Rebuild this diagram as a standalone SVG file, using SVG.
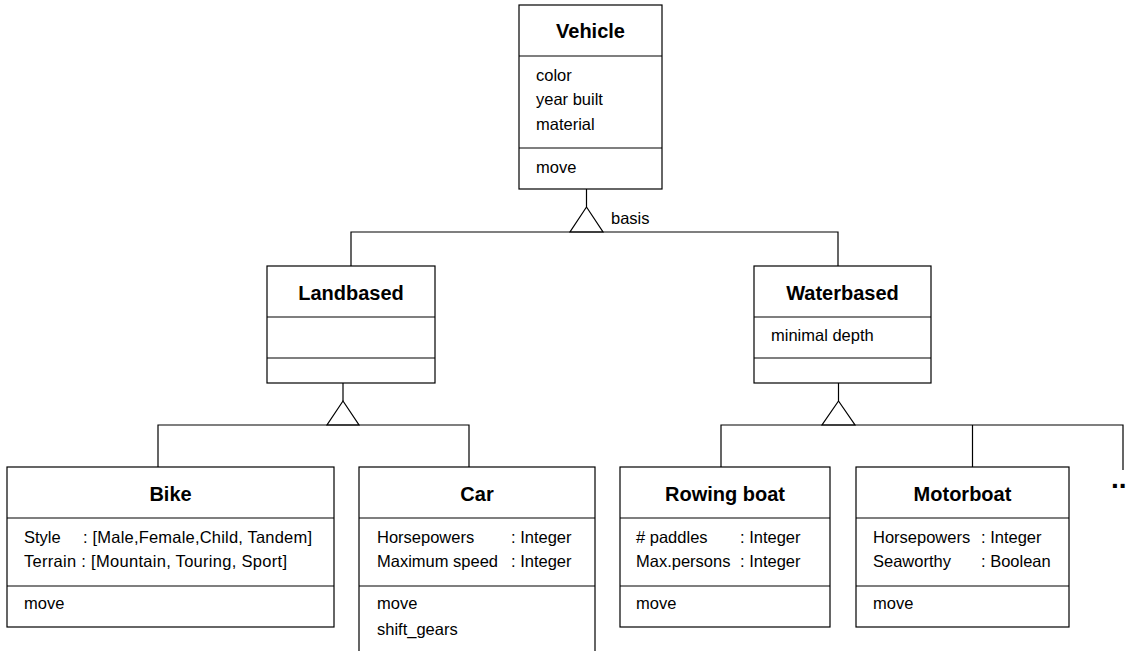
<svg xmlns="http://www.w3.org/2000/svg" width="1129" height="651" viewBox="0 0 1129 651">
<style>
.box{fill:#fff;stroke:#000;stroke-width:1.2}
.ln{fill:none;stroke:#000;stroke-width:1.2}
.t{font-family:"Liberation Sans",Arial,sans-serif;font-size:20px;font-weight:bold;text-anchor:middle;fill:#000}
.a{font-family:"Liberation Sans",Arial,sans-serif;font-size:16.5px;fill:#000}
</style>
<rect width="1129" height="651" fill="#fff"/>
<g id="connectors">
<path class="ln" d="M586.5 189V207M351 266V232H838V266"/>
<polygon class="ln" points="586.5,207 570,232 603,232" fill="#fff"/>
<path class="ln" d="M343 383V401M158 467V425H469V467"/>
<polygon class="ln" points="343,401 327,425 359,425" fill="#fff"/>
<path class="ln" d="M838.5 383V401M721 467V425H1123V470M972.5 425V467"/>
<polygon class="ln" points="838.5,401 822,425 855,425" fill="#fff"/>
<text x="611" y="224" class="a">basis</text>
<text x="1111" y="488" class="a" style="font-size:28px;font-weight:bold">..</text>
</g>
<g id="vehicle">
<rect class="box" x="519" y="5" width="143" height="184"/>
<path class="ln" d="M519 56H662M519 148H662"/>
<text x="590.5" y="38" class="t">Vehicle</text>
<text x="536" y="81" class="a">color</text>
<text x="536" y="105" class="a">year built</text>
<text x="536" y="130" class="a">material</text>
<text x="536" y="173" class="a">move</text>
</g>
<g id="landbased">
<rect class="box" x="267" y="266" width="168" height="117"/>
<path class="ln" d="M267 317H435M267 358H435"/>
<text x="351" y="300" class="t">Landbased</text>
</g>
<g id="waterbased">
<rect class="box" x="754" y="266" width="177" height="117"/>
<path class="ln" d="M754 317H931M754 358H931"/>
<text x="842.5" y="300" class="t">Waterbased</text>
<text x="771" y="341" class="a">minimal depth</text>
</g>
<g id="bike">
<rect class="box" x="7" y="467" width="327" height="160"/>
<path class="ln" d="M7 518H334M7 586H334"/>
<text x="170.5" y="501" class="t">Bike</text>
<text x="24" y="543" class="a">Style</text>
<text x="83" y="543" class="a" textLength="229" lengthAdjust="spacing">: [Male,Female,Child, Tandem]</text>
<text x="24" y="567" class="a" textLength="263" lengthAdjust="spacing">Terrain : [Mountain, Touring, Sport]</text>
<text x="24" y="609" class="a">move</text>
</g>
<g id="car">
<rect class="box" x="359" y="467" width="236" height="200"/>
<path class="ln" d="M359 518H595M359 586H595"/>
<text x="477" y="501" class="t">Car</text>
<text x="377" y="543" class="a">Horsepowers</text>
<text x="511" y="543" class="a">: Integer</text>
<text x="377" y="567" class="a">Maximum speed</text>
<text x="511" y="567" class="a">: Integer</text>
<text x="377" y="609" class="a">move</text>
<text x="377" y="635" class="a">shift_gears</text>
</g>
<g id="rowingboat">
<rect class="box" x="620" y="467" width="210" height="160"/>
<path class="ln" d="M620 518H830M620 586H830"/>
<text x="725" y="501" class="t">Rowing boat</text>
<text x="636" y="543" class="a"># paddles</text>
<text x="740" y="543" class="a">: Integer</text>
<text x="636" y="567" class="a">Max.persons</text>
<text x="740" y="567" class="a">: Integer</text>
<text x="636" y="609" class="a">move</text>
</g>
<g id="motorboat">
<rect class="box" x="856" y="467" width="213" height="160"/>
<path class="ln" d="M856 518H1069M856 586H1069"/>
<text x="962.5" y="501" class="t">Motorboat</text>
<text x="873" y="543" class="a">Horsepowers</text>
<text x="981" y="543" class="a">: Integer</text>
<text x="873" y="567" class="a">Seaworthy</text>
<text x="981" y="567" class="a">: Boolean</text>
<text x="873" y="609" class="a">move</text>
</g>
</svg>
